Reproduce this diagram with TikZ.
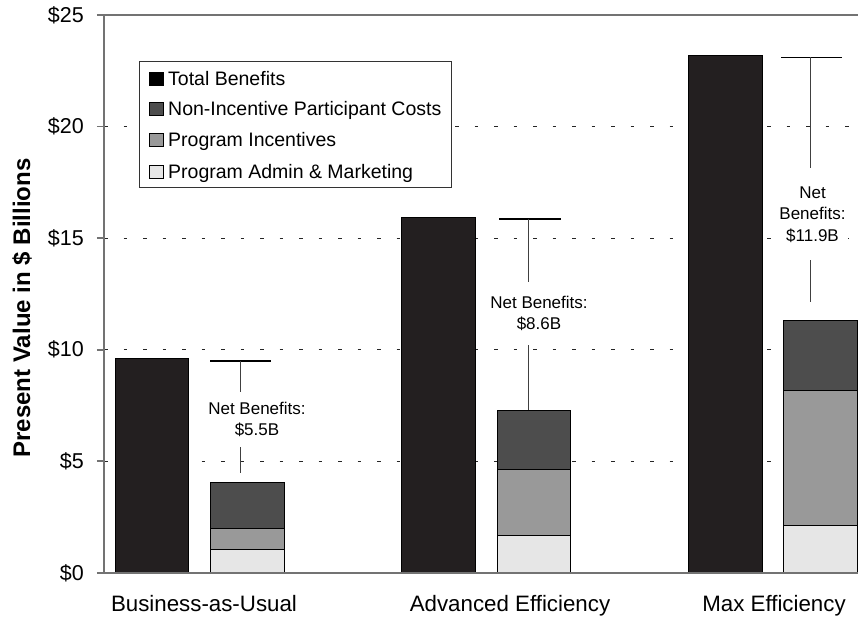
\documentclass[tikz,border=0pt]{standalone}
\usepackage{fontspec}
\setmainfont{Liberation Sans}
\usepackage{tikz}
\usepackage{xcolor}

\definecolor{totfill}{HTML}{231F20}
\definecolor{nicfill}{HTML}{4D4D4D}
\definecolor{incfill}{HTML}{999999}
\definecolor{admfill}{HTML}{E6E6E6}

\begin{document}
\begin{tikzpicture}[x=1pt,y=22.32pt,
        gridln/.style={black!85,line width=0.8pt,dash pattern=on 3.5pt off 16pt},
        axisln/.style={black!55,line width=1.8pt},
        barbox/.style={draw=black,line width=1pt},
        ticklbl/.style={anchor=east,inner sep=0pt,font=\fontsize{21.5}{24}\selectfont},
        catlbl/.style={anchor=base,inner sep=0pt,font=\fontsize{22.3}{26}\selectfont},
        legtext/.style={anchor=base west,inner sep=0pt,font=\fontsize{19.5}{22}\selectfont},
        netlbl/.style={fill=white,align=center,inner xsep=2pt,font=\fontsize{17}{21.5}\selectfont},
        capln/.style={black,line width=1.3pt},
        netln/.style={black!75,line width=1.3pt}]
        \useasboundingbox (-104,-2.016) rectangle (754,25.67);
        % dashed grid
        \draw[gridln] (0,5) -- (754,5);
        \draw[gridln] (0,10) -- (754,10);
        \draw[gridln] (0,15) -- (754,15);
        \draw[gridln] (0,20) -- (754,20);
        \draw[black!55,line width=1.2pt] (0,25) -- (754,25);
        % Business-as-Usual
        \fill[barbox,fill=totfill] (11,0) rectangle (84,9.6);
        \fill[barbox,fill=admfill] (106,0) rectangle (180,1.03);
        \fill[barbox,fill=incfill] (106,1.03) rectangle (180,2.0);
        \fill[barbox,fill=nicfill] (106,2.0) rectangle (180,4.05);
        % Advanced Efficiency
        \fill[barbox,fill=totfill] (297,0) rectangle (371,15.94);
        \fill[barbox,fill=admfill] (393,0) rectangle (466,1.70);
        \fill[barbox,fill=incfill] (393,1.70) rectangle (466,4.65);
        \fill[barbox,fill=nicfill] (393,4.65) rectangle (466,7.30);
        % Max Efficiency
        \fill[barbox,fill=totfill] (584,0) rectangle (658,23.2);
        \fill[barbox,fill=admfill] (679,0) rectangle (753,2.12);
        \fill[barbox,fill=incfill] (679,2.12) rectangle (753,8.19);
        \fill[barbox,fill=nicfill] (679,8.19) rectangle (753,11.29);
        % axes and ticks
        \draw[axisln] (0,0) -- (0,25);
        \draw[axisln] (-7,0) -- (754,0);
        \draw[axisln] (-7,5) -- (0,5);
        \draw[axisln] (-7,10) -- (0,10);
        \draw[axisln] (-7,15) -- (0,15);
        \draw[axisln] (-7,20) -- (0,20);
        \draw[axisln] (-7,25) -- (0,25);
        \node[ticklbl] (y0) at (-20,0) {\$0};
        \node[ticklbl] (y5) at (-20,5) {\$5};
        \node[ticklbl] (y10) at (-20,10) {\$10};
        \node[ticklbl] (y15) at (-20,15) {\$15};
        \node[ticklbl] (y20) at (-20,20) {\$20};
        \node[ticklbl] (y25) at (-20,25) {\$25};
        \node[rotate=90,font=\fontsize{24}{28}\bfseries] (ylab) at (-82,11.87) {Present Value in \$ Billions};
        \node[catlbl] (bau) at (100,-1.734) {Business-as-Usual};
        \node[catlbl] (adv) at (406,-1.734) {Advanced Efficiency};
        \node[catlbl] (max) at (670,-1.734) {Max Efficiency};
        % legend
        \filldraw[draw=black!80,fill=white,line width=1pt] (35,17.29) rectangle (347,22.9);
        \filldraw[draw=black,fill=black,line width=0.8pt] (45.3,21.84) rectangle (59.3,22.42);
        \filldraw[draw=black,fill=nicfill,line width=0.8pt] (45.3,20.50) rectangle (59.3,21.08);
        \filldraw[draw=black,fill=incfill,line width=0.8pt] (45.3,19.11) rectangle (59.3,19.69);
        \filldraw[draw=black,fill=admfill,line width=0.8pt] (45.3,17.69) rectangle (59.3,18.27);
        \node[legtext] (legtot) at (64,21.82) {Total Benefits};
        \node[legtext] (legnic) at (64,20.48) {Non-Incentive Participant Costs};
        \node[legtext] (leginc) at (64,19.09) {Program Incentives};
        \node[legtext] (legadm) at (64,17.67) {Program Admin \& Marketing};
        % net benefits
        \node[netlbl,inner ysep=10pt] (netbau) at (153,6.88) {Net Benefits:\\\$5.5B};
        \coordinate (capbau) at (136.7,9.5);
        \coordinate (endbau) at (136.7,4.48);
        \draw[capln] ([xshift=-30.7pt]capbau) -- ([xshift=30pt]capbau);
        \draw[netln] (capbau) -- (capbau |- netbau.north);
        \draw[netln] (capbau |- netbau.south) -- (endbau);
        \node[netlbl,inner ysep=14pt] (netadv) at (435,11.63) {Net Benefits:\\\$8.6B};
        \coordinate (capadv) at (424.3,15.86);
        \coordinate (endadv) at (424.3,7.30);
        \draw[capln] ([xshift=-29.3pt]capadv) -- ([xshift=32.4pt]capadv);
        \draw[netln] (capadv) -- (capadv |- netadv.north);
        \draw[netln] (capadv |- netadv.south) -- (endadv);
        \node[netlbl,inner ysep=18pt] (netmax) at (708.5,16.07) {Net\\Benefits:\\\$11.9B};
        \coordinate (capmax) at (706.7,23.10);
        \coordinate (endmax) at (706.7,12.14);
        \draw[capln] ([xshift=-29.7pt]capmax) -- ([xshift=31pt]capmax);
        \draw[netln] (capmax) -- (capmax |- netmax.north);
        \draw[netln] (capmax |- netmax.south) -- (endmax);
    \end{tikzpicture}
\end{document}
